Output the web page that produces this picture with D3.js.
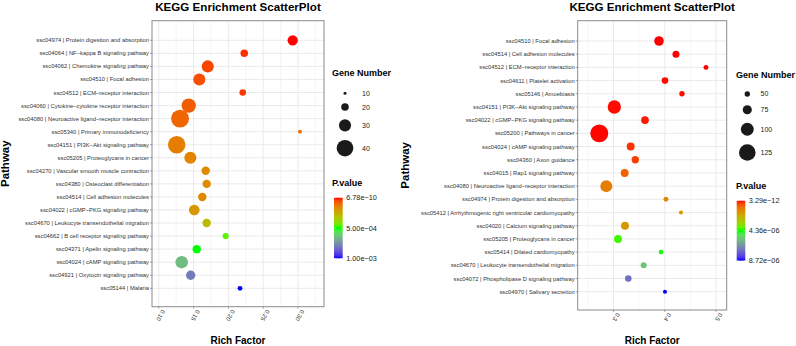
<!DOCTYPE html>
<html><head><meta charset="utf-8">
<script src="https://cdn.jsdelivr.net/npm/d3@7"></script>
<style>
html,body{margin:0;padding:0;background:#fff;}
svg{display:block;font-family:"Liberation Sans",Arial,Helvetica,sans-serif;}
</style></head>
<body>
<svg id="chart" width="796" height="346"></svg>
<script>
// ---------------- DATA ----------------
const leftPathways = [
  "ssc04974 | Protein digestion and absorption",
  "ssc04064 | NF\u2212kappa B signaling pathway",
  "ssc04062 | Chemokine signaling pathway",
  "ssc04510 | Focal adhesion",
  "ssc04512 | ECM\u2212receptor interaction",
  "ssc04060 | Cytokine\u2212cytokine receptor interaction",
  "ssc04080 | Neuroactive ligand\u2212receptor interaction",
  "ssc05340 | Primary immunodeficiency",
  "ssc04151 | PI3K\u2212Akt signaling pathway",
  "ssc05205 | Proteoglycans in cancer",
  "ssc04270 | Vascular smooth muscle contraction",
  "ssc04380 | Osteoclast differentiation",
  "ssc04514 | Cell adhesion molecules",
  "ssc04022 | cGMP\u2212PKG signaling pathway",
  "ssc04670 | Leukocyte transendothelial migration",
  "ssc04662 | B cell receptor signaling pathway",
  "ssc04371 | Apelin signaling pathway",
  "ssc04024 | cAMP signaling pathway",
  "ssc04921 | Oxytocin signaling pathway",
  "ssc05144 | Malaria"
];
const leftRichFactor = [0.2924,0.2228,0.1703,0.1582,0.2206,0.1430,0.1305,0.3029,0.1257,0.1453,
                        0.1674,0.1688,0.1625,0.1510,0.1688,0.1961,0.1545,0.1329,0.1458,0.2167];
const leftGeneNumber = [26,20,30,30,18,35,43,12,42,30,22,22,22,27,22,17,22,31,24,14];
const leftPValue = [6.78e-10,2e-5,4.5e-5,5.5e-5,3e-5,7.5e-5,9e-5,1.0e-4,1.4e-4,1.5e-4,
                    1.65e-4,1.7e-4,1.6e-4,1.95e-4,2.9e-4,4.6e-4,5.0e-4,6.5e-4,8.0e-4,1.0e-3];
const leftXTicks = [0.10,0.15,0.20,0.25,0.30];
const leftXTickLabels = ["0.10","0.15","0.20","0.25","0.30"];
const leftSizeBreaks = [10,20,30,40];
const leftPLimits = [6.78e-10, 1.00e-3];
const leftPLabels = ["6.78e\u221210","5.00e\u221204","1.00e\u221203"];

const rightPathways = [
  "ssc04510 | Focal adhesion",
  "ssc04514 | Cell adhesion molecules",
  "ssc04512 | ECM\u2212receptor interaction",
  "ssc04611 | Platelet activation",
  "ssc05146 | Amoebiasis",
  "ssc04151 | PI3K\u2212Akt signaling pathway",
  "ssc04022 | cGMP\u2212PKG signaling pathway",
  "ssc05200 | Pathways in cancer",
  "ssc04024 | cAMP signaling pathway",
  "ssc04360 | Axon guidance",
  "ssc04015 | Rap1 signaling pathway",
  "ssc04080 | Neuroactive ligand\u2212receptor interaction",
  "ssc04974 | Protein digestion and absorption",
  "ssc05412 | Arrhythmogenic right ventricular cardiomyopathy",
  "ssc04020 | Calcium signaling pathway",
  "ssc05205 | Proteoglycans in cancer",
  "ssc05414 | Dilated cardiomyopathy",
  "ssc04670 | Leukocyte transendothelial migration",
  "ssc04072 | Phospholipase D signaling pathway",
  "ssc04970 | Salivary secretion"
];
const rightRichFactor = [0.3887,0.4218,0.4803,0.4004,0.4335,0.3016,0.3614,0.2723,0.3335,0.3425,
                         0.3218,0.2860,0.4023,0.4316,0.3224,0.3088,0.3926,0.3589,0.3288,0.4004];
const rightGeneNumber = [78,61,47,58,50,103,65,134,67,63,67,94,47,41,67,67,45,54,58,41];
const rightPValue = [3.29e-12,1e-9,5e-9,2e-8,3e-8,2e-8,6e-8,1e-8,2e-7,3e-7,
                     7.4e-7,1.2e-6,1.45e-6,1.75e-6,1.75e-6,4.2e-6,4.4e-6,5.5e-6,7.2e-6,8.72e-6];
const rightXTicks = [0.3,0.4,0.5];
const rightXTickLabels = ["0.3","0.4","0.5"];
const rightSizeBreaks = [50,75,100,125];
const rightPLimits = [3.29e-12, 8.72e-6];
const rightPLabels = ["3.29e\u221212","4.36e\u221206","8.72e\u221206"];

// ---------------- DRAW ----------------
const svg = d3.select("#chart");
svg.append("rect").attr("width",796).attr("height",346).attr("fill","#fff");

function drawPanel(cfg){
  const g = svg.append("g");
  const L = cfg.layout;
  const x = d3.scaleLinear().domain(cfg.xDomain).range([L.px0, L.px1]);
  const y = d3.scalePoint().domain(cfg.pathways).range([L.rowTop, L.rowBottom]);
  const pMid = (cfg.pLimits[0]+cfg.pLimits[1])/2;
  const color = d3.scaleLinear().domain([cfg.pLimits[0], pMid, cfg.pLimits[1]])
      .range(["#ff0000","#00ff00","#0000ff"]).interpolate(d3.interpolateLab);
  const r = d3.scaleLinear().domain(cfg.sizeDomain).range(cfg.sizeRange);

  // title
  g.append("text").attr("x",(L.px0+L.px1)/2).attr("y",11)
    .attr("text-anchor","middle").attr("font-weight","bold").attr("font-size",11.6)
    .attr("fill","#000").text("KEGG Enrichment ScatterPlot");

  // grid
  const step = cfg.xTicks[1]-cfg.xTicks[0];
  const minor = [];
  for(let v = cfg.xTicks[0]-step/2; v <= cfg.xDomain[1]; v += step) if (v >= cfg.xDomain[0]) minor.push(v);
  g.append("g").selectAll("line").data(minor).join("line")
    .attr("x1",d=>x(d)).attr("x2",d=>x(d)).attr("y1",L.py0).attr("y2",L.py1)
    .attr("stroke","#f0f0f0").attr("stroke-width",0.6);
  g.append("g").selectAll("line").data(cfg.xTicks).join("line")
    .attr("x1",d=>x(d)).attr("x2",d=>x(d)).attr("y1",L.py0).attr("y2",L.py1)
    .attr("stroke","#e8e8e8").attr("stroke-width",0.9);
  g.append("g").selectAll("line").data(cfg.pathways).join("line")
    .attr("x1",L.px0).attr("x2",L.px1).attr("y1",d=>y(d)).attr("y2",d=>y(d))
    .attr("stroke","#e8e8e8").attr("stroke-width",0.9);

  // points
  const data = cfg.pathways.map((p,i)=>({p, rf:cfg.rich[i], n:cfg.genes[i], pv:cfg.pvals[i]}));
  g.append("g").selectAll("circle").data(data).join("circle")
    .attr("cx",d=>x(d.rf)).attr("cy",d=>y(d.p)).attr("r",d=>r(d.n))
    .attr("fill",d=>color(d.pv));

  // border
  g.append("rect").attr("x",L.px0).attr("y",L.py0).attr("width",L.px1-L.px0).attr("height",L.py1-L.py0)
    .attr("fill","none").attr("stroke","#8a8a8a").attr("stroke-width",1);

  // y axis ticks + labels
  const ya = g.append("g");
  ya.selectAll("line").data(cfg.pathways).join("line")
    .attr("x1",L.px0-2).attr("x2",L.px0).attr("y1",d=>y(d)).attr("y2",d=>y(d))
    .attr("stroke","#555").attr("stroke-width",0.5);
  ya.selectAll("text").data(cfg.pathways).join("text")
    .attr("x",L.px0-3).attr("y",d=>y(d)).attr("dy","0.35em")
    .attr("text-anchor","end").attr("font-size",5.8).attr("fill","#333").text(d=>d);

  // x axis ticks + labels
  const xa = g.append("g");
  xa.selectAll("line").data(cfg.xTicks).join("line")
    .attr("x1",d=>x(d)).attr("x2",d=>x(d)).attr("y1",L.py1).attr("y2",L.py1+2)
    .attr("stroke","#555").attr("stroke-width",0.5);
  xa.selectAll("text").data(cfg.xTicks).join("text")
    .attr("transform",d=>`translate(${x(d)+3},${L.py1+2.5}) rotate(120)`)
    .attr("text-anchor","start").attr("font-size",6).attr("fill","#333")
    .text((d,i)=>cfg.xTickLabels[i]);

  // axis titles
  g.append("text").attr("x",(L.px0+L.px1)/2).attr("y",344).attr("text-anchor","middle")
    .attr("font-weight","bold").attr("font-size",10).text("Rich Factor");
  g.append("text").attr("transform",`translate(${L.ytx},${(L.py0+L.py1)/2}) rotate(-90)`)
    .attr("text-anchor","middle").attr("font-weight","bold").attr("font-size",11.5).text("Pathway");

  // size legend
  const lg = g.append("g");
  lg.append("text").attr("x",L.legX).attr("y",L.sizeTitleY).attr("font-weight","bold")
    .attr("font-size",9).text("Gene Number");
  let cy = L.sizeKeyY0;
  const keys = cfg.sizeBreaks.map((b,i)=>{
    if(i>0){ cy += (2*r(cfg.sizeBreaks[i-1])+L.keyPad)/2 + (2*r(b)+L.keyPad)/2; }
    return {b, cy};
  });
  lg.selectAll("circle").data(keys).join("circle")
    .attr("cx",L.keyCx).attr("cy",d=>d.cy).attr("r",d=>r(d.b)).attr("fill","#1a1a1a");
  lg.selectAll("text.k").data(keys).join("text").attr("class","k")
    .attr("x",L.keyLabX).attr("y",d=>d.cy).attr("dy","0.35em").attr("font-size",7)
    .attr("fill","#222").text(d=>d.b);

  // colour legend
  const cg = g.append("g");
  cg.append("text").attr("x",L.legX).attr("y",L.colTitleY).attr("font-weight","bold")
    .attr("font-size",9).text("P.value");
  const gid = "grad"+cfg.id;
  const grad = svg.append("defs").append("linearGradient").attr("id",gid)
    .attr("x1",0).attr("x2",0).attr("y1",0).attr("y2",1);
  d3.range(0,21).forEach(k=>{
    const t = k/20;
    grad.append("stop").attr("offset",t)
      .attr("stop-color",color(cfg.pLimits[0]+t*(cfg.pLimits[1]-cfg.pLimits[0])));
  });
  const bar = d3.scaleLinear().domain(cfg.pLimits).range([L.barY0, L.barY1]);
  cg.append("rect").attr("x",L.barX).attr("y",L.barY0).attr("width",L.barW)
    .attr("height",L.barY1-L.barY0).attr("fill",`url(#${gid})`);
  const pBreaks = [cfg.pLimits[0], pMid, cfg.pLimits[1]];
  cg.selectAll("line").data(pBreaks).join("line")
    .attr("x1",L.barX).attr("x2",L.barX+1.8).attr("y1",d=>bar(d)).attr("y2",d=>bar(d))
    .attr("stroke","#fff").attr("stroke-width",0.5);
  cg.selectAll("line.r").data(pBreaks).join("line").attr("class","r")
    .attr("x1",L.barX+L.barW-1.8).attr("x2",L.barX+L.barW).attr("y1",d=>bar(d)).attr("y2",d=>bar(d))
    .attr("stroke","#fff").attr("stroke-width",0.5);
  cg.selectAll("text.p").data(pBreaks).join("text").attr("class","p")
    .attr("x",L.barX+L.barW+3.5).attr("y",d=>bar(d)).attr("dy","0.35em")
    .attr("font-size",7.3).attr("fill","#222").text((d,i)=>cfg.pLabels[i]);
}

drawPanel({
  id:"L", pathways:leftPathways, rich:leftRichFactor, genes:leftGeneNumber, pvals:leftPValue,
  xTicks:leftXTicks, xTickLabels:leftXTickLabels, xDomain:[0.0902,0.3374],
  sizeBreaks:leftSizeBreaks, sizeDomain:[10,40], sizeRange:[1.5,8.3],
  pLimits:leftPLimits, pLabels:leftPLabels,
  layout:{px0:152,px1:324,py0:20.7,py1:306.7,rowTop:40.3,rowBottom:288.3,ytx:8.5,
          legX:332,sizeTitleY:76,sizeKeyY0:93.3,keyPad:8.5,keyCx:345,keyLabX:362,
          colTitleY:186,barX:334,barW:8.7,barY0:197.7,barY1:258.3}
});
drawPanel({
  id:"R", pathways:rightPathways, rich:rightRichFactor, genes:rightGeneNumber, pvals:rightPValue,
  xTicks:rightXTicks, xTickLabels:rightXTickLabels, xDomain:[0.2302,0.5207],
  sizeBreaks:rightSizeBreaks, sizeDomain:[50,125], sizeRange:[2.7,8.3],
  pLimits:rightPLimits, pLabels:rightPLabels,
  layout:{px0:577.7,px1:726.7,py0:20.7,py1:310,rowTop:41,rowBottom:291.7,ytx:408.5,
          legX:736,sizeTitleY:78,sizeKeyY0:94,keyPad:8.5,keyCx:747.3,keyLabX:760.5,
          colTitleY:189,barX:736.7,barW:8.6,barY0:200.7,barY1:260.7}
});
</script>
</body></html>
